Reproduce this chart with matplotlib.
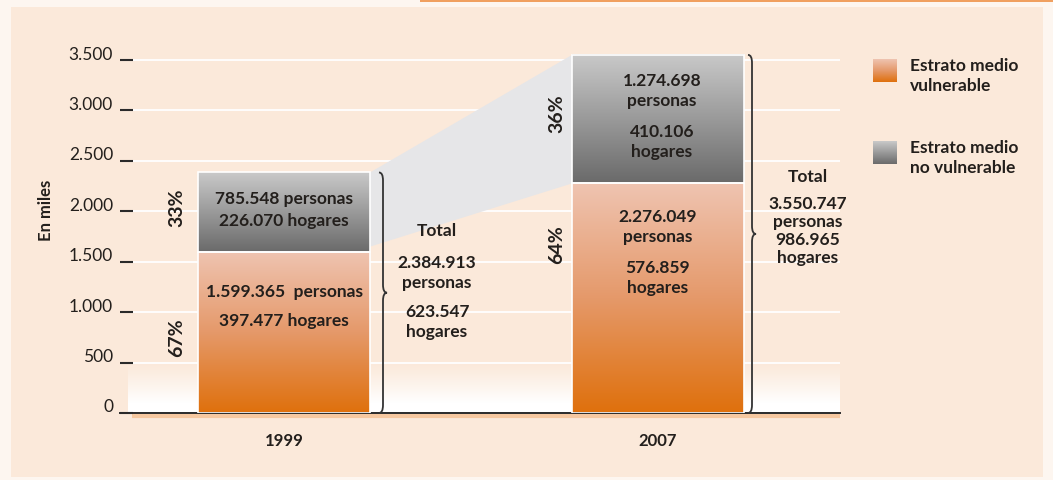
import numpy as np
import matplotlib.pyplot as plt
import matplotlib.transforms as mtransforms
from matplotlib.patches import Polygon, Rectangle
from matplotlib.path import Path
from matplotlib.patches import PathPatch
from matplotlib.colors import LinearSegmentedColormap

plt.rcParams['font.family'] = ['Lato', 'DejaVu Sans']

# Datos (miles de personas)
years = ['1999', '2007']
vulnerable = [1599.365, 2276.049]
no_vulnerable = [785.548, 1274.698]
pct_vulnerable = ['67%', '64%']
pct_no_vulnerable = ['33%', '36%']
txt_vulnerable = [['1.599.365  personas', '397.477 hogares'],
                  ['2.276.049\npersonas', '576.859\nhogares']]
txt_no_vulnerable = [['785.548 personas\n226.070 hogares'],
                     ['1.274.698\npersonas', '410.106\nhogares']]
txt_total = [['2.384.913\npersonas', '623.547\nhogares'],
             ['3.550.747\npersonas\n986.965\nhogares']]
yticks = [0, 500, 1000, 1500, 2000, 2500, 3000, 3500]
ytick_labels = ['0', '500', '1.000', '1.500', '2.000', '2.500', '3.000', '3.500']
legend_labels = ['Estrato medio\nvulnerable', 'Estrato medio\nno vulnerable']

BG = '#fbe9da'
TXT = '#231f1c'
W, H = 1053, 481

fig = plt.figure(figsize=(W / 100, H / 100), dpi=100)
fig.patch.set_facecolor('#fdf6f0')
# panel de fondo
fig.patches.append(Rectangle((11 / W, 3 / H), 1032 / W, 470 / H, transform=fig.transFigure,
                             facecolor=BG, edgecolor='none', zorder=-5))
fig.patches.append(Rectangle((420 / W, 1 - 3 / H), 633 / W, 3 / H, transform=fig.transFigure,
                             facecolor='#f0a060', edgecolor='none', zorder=-5))

# ejes: y=0 en px 414, 3500 en px 61
ppu = (414 - 61) / 3500
ytop = 3700
ax_bottom = (H - 414) / H
ax_height = ytop * ppu / H
xpx = 374.0  # px por unidad x
x0_px, x1_px = 120, 840
ax = fig.add_axes([x0_px / W, ax_bottom, (x1_px - x0_px) / W, ax_height])
ax.set_facecolor('none')
xl = (x0_px - 284) / xpx
xr = (x1_px - 658) / xpx + 1
ax.set_xlim(xl, xr)
ax.set_ylim(0, ytop)

x = np.arange(len(years))
width = 172 / xpx

# difuminado blanco en la parte baja
fade = np.ones((50, 2, 4))
fade[..., 3] = np.clip(np.linspace(1.25, 0, 50), 0, 1)[:, None] ** 1.2
ax.imshow(fade, extent=[xl + 8 / xpx, xr, 0, 500], aspect='auto', origin='lower', zorder=0.5)

# líneas de cuadrícula blancas
ax.hlines(yticks[1:], xl + 13 / xpx, xr, colors='white', lw=1.3, zorder=1)

# banda gris entre barras
band = Polygon([[x[0] + width / 2, vulnerable[0] + no_vulnerable[0]],
                [x[1] - width / 2, vulnerable[1] + no_vulnerable[1]],
                [x[1] - width / 2, vulnerable[1]],
                [x[0] + width / 2, vulnerable[0] + 50]],
               closed=True, facecolor='#e6e6e8', edgecolor='none', zorder=1.5)
ax.add_patch(band)

orange_cmap = LinearSegmentedColormap.from_list('o', ['#df700c', '#e5996a', '#efc4b1'])
gray_cmap = LinearSegmentedColormap.from_list('g', ['#6a6a6a', '#9a9a9a', '#c9c9c9'])
grad = np.linspace(0, 1, 256)[:, None]

bars_v = ax.bar(x, vulnerable, width, color='none', edgecolor='white', lw=1.2, zorder=3)
bars_n = ax.bar(x, no_vulnerable, width, bottom=vulnerable, color='none',
                edgecolor='white', lw=1.2, zorder=3)
for bars, cmap in [(bars_v, orange_cmap), (bars_n, gray_cmap)]:
    for b in bars:
        ax.imshow(grad, cmap=cmap, extent=[b.get_x(), b.get_x() + b.get_width(),
                                           b.get_y(), b.get_y() + b.get_height()],
                  aspect='auto', origin='lower', zorder=2.5, clip_on=False)

ax.set_xlim(xl, xr)
ax.set_ylim(0, ytop)


def brace(ax, xb, y0, y1):
    # llave vertical apuntando a la derecha
    w = 4 / xpx
    c = 8 / ppu
    ym = (y0 + y1) / 2
    verts = [(xb - w, y1), (xb, y1), (xb, y1 - c),
             (xb, ym + c), (xb, ym), (xb + w, ym),
             (xb, ym), (xb, ym - c),
             (xb, y0 + c), (xb, y0), (xb - w, y0)]
    codes = [Path.MOVETO, Path.CURVE3, Path.CURVE3,
             Path.LINETO, Path.CURVE3, Path.CURVE3,
             Path.CURVE3, Path.CURVE3,
             Path.LINETO, Path.CURVE3, Path.CURVE3]
    ax.add_patch(PathPatch(Path(verts, codes), facecolor='none', edgecolor='#333333',
                           lw=1.3, zorder=4, clip_on=False))


tot = [v + n for v, n in zip(vulnerable, no_vulnerable)]
brace_x = [x[0] + width / 2 + 13 / xpx, x[1] + width / 2 + 8 / xpx]
for i in range(2):
    brace(ax, brace_x[i], 0, tot[i])

fs = 12.5


def label(xd, ypx, s, ls=1.25, size=fs, **kw):
    # ypx: posición vertical (px desde arriba) del centro del bloque
    ax.text(xd, (414 - ypx) / ppu, s, ha='center', va='center', fontsize=size, color=TXT,
            fontweight='bold', linespacing=ls, zorder=5, **kw)


# textos dentro de las barras
label(x[0], 210, txt_no_vulnerable[0][0], ls=1.4)
label(x[0], 292, txt_vulnerable[0][0])
label(x[0], 321, txt_vulnerable[0][1])
label(x[1] + 4 / xpx, 91, txt_no_vulnerable[1][0])
label(x[1] + 4 / xpx, 142, txt_no_vulnerable[1][1])
label(x[1], 227, txt_vulnerable[1][0])
label(x[1], 278, txt_vulnerable[1][1])

# porcentajes
pct_x = [x[0] - width / 2 - 21 / xpx, x[1] - width / 2 - 15 / xpx]
label(pct_x[0], 208, pct_no_vulnerable[0], size=14, rotation=90)
label(pct_x[0], 338, pct_vulnerable[0], size=14, rotation=90)
label(pct_x[1], 114, pct_no_vulnerable[1], size=14, rotation=90)
label(pct_x[1], 245, pct_vulnerable[1], size=14, rotation=90)

# totales
tx = [(437 - 284) / xpx, 1 + (808 - 658) / xpx]
label(tx[0], 231, 'Total')
label(tx[0], 273, txt_total[0][0])
label(tx[0], 322, txt_total[0][1])
label(tx[1], 177, 'Total')
label(tx[1], 231, txt_total[1][0], ls=1.15)

# ejes
for s in ['top', 'right', 'left']:
    ax.spines[s].set_visible(False)
ax.spines['bottom'].set_color('#2a2a2a')
ax.spines['bottom'].set_linewidth(1.4)
ax.hlines(-28, xl + 12 / xpx, xr, colors='#f6c8a0', lw=3, clip_on=False, zorder=0.6)
ax.set_yticks(yticks)
ax.set_yticklabels(ytick_labels)
ax.tick_params(axis='y', direction='in', length=9.5, width=1.5, color='#2a2a2a', pad=5,
               labelsize=12.5, labelcolor=TXT)
shift = mtransforms.ScaledTranslation(0, 8 / 100, fig.dpi_scale_trans)
for lab in ax.get_yticklabels():
    lab.set_transform(lab.get_transform() + shift)
ax.set_xticks(x)
ax.set_xticklabels(years, fontsize=12, fontweight='bold', color=TXT)
ax.tick_params(axis='x', length=0, pad=14)
ax.set_ylabel('En miles', fontsize=12, fontweight='bold', color=TXT)
ax.yaxis.set_label_coords(-0.092, (414 - 210) / (ytop * ppu))

# leyenda
leg_ax = fig.add_axes([0, 0, 1, 1], facecolor='none')
leg_ax.set_xlim(0, W)
leg_ax.set_ylim(H, 0)
leg_ax.axis('off')
for j, (cmap, lab) in enumerate([(orange_cmap, legend_labels[0]), (gray_cmap, legend_labels[1])]):
    ytop_px = 60 + j * 82
    leg_ax.imshow(grad, cmap=cmap, extent=[873, 897, ytop_px + 23, ytop_px], aspect='auto',
                  origin='lower')
    leg_ax.text(910, ytop_px - 2, lab, ha='left', va='top', fontsize=fs, color=TXT,
                fontweight='bold', linespacing=1.3)
leg_ax.set_xlim(0, W)
leg_ax.set_ylim(H, 0)

fig.savefig('out.png', dpi=100, facecolor=fig.get_facecolor())
